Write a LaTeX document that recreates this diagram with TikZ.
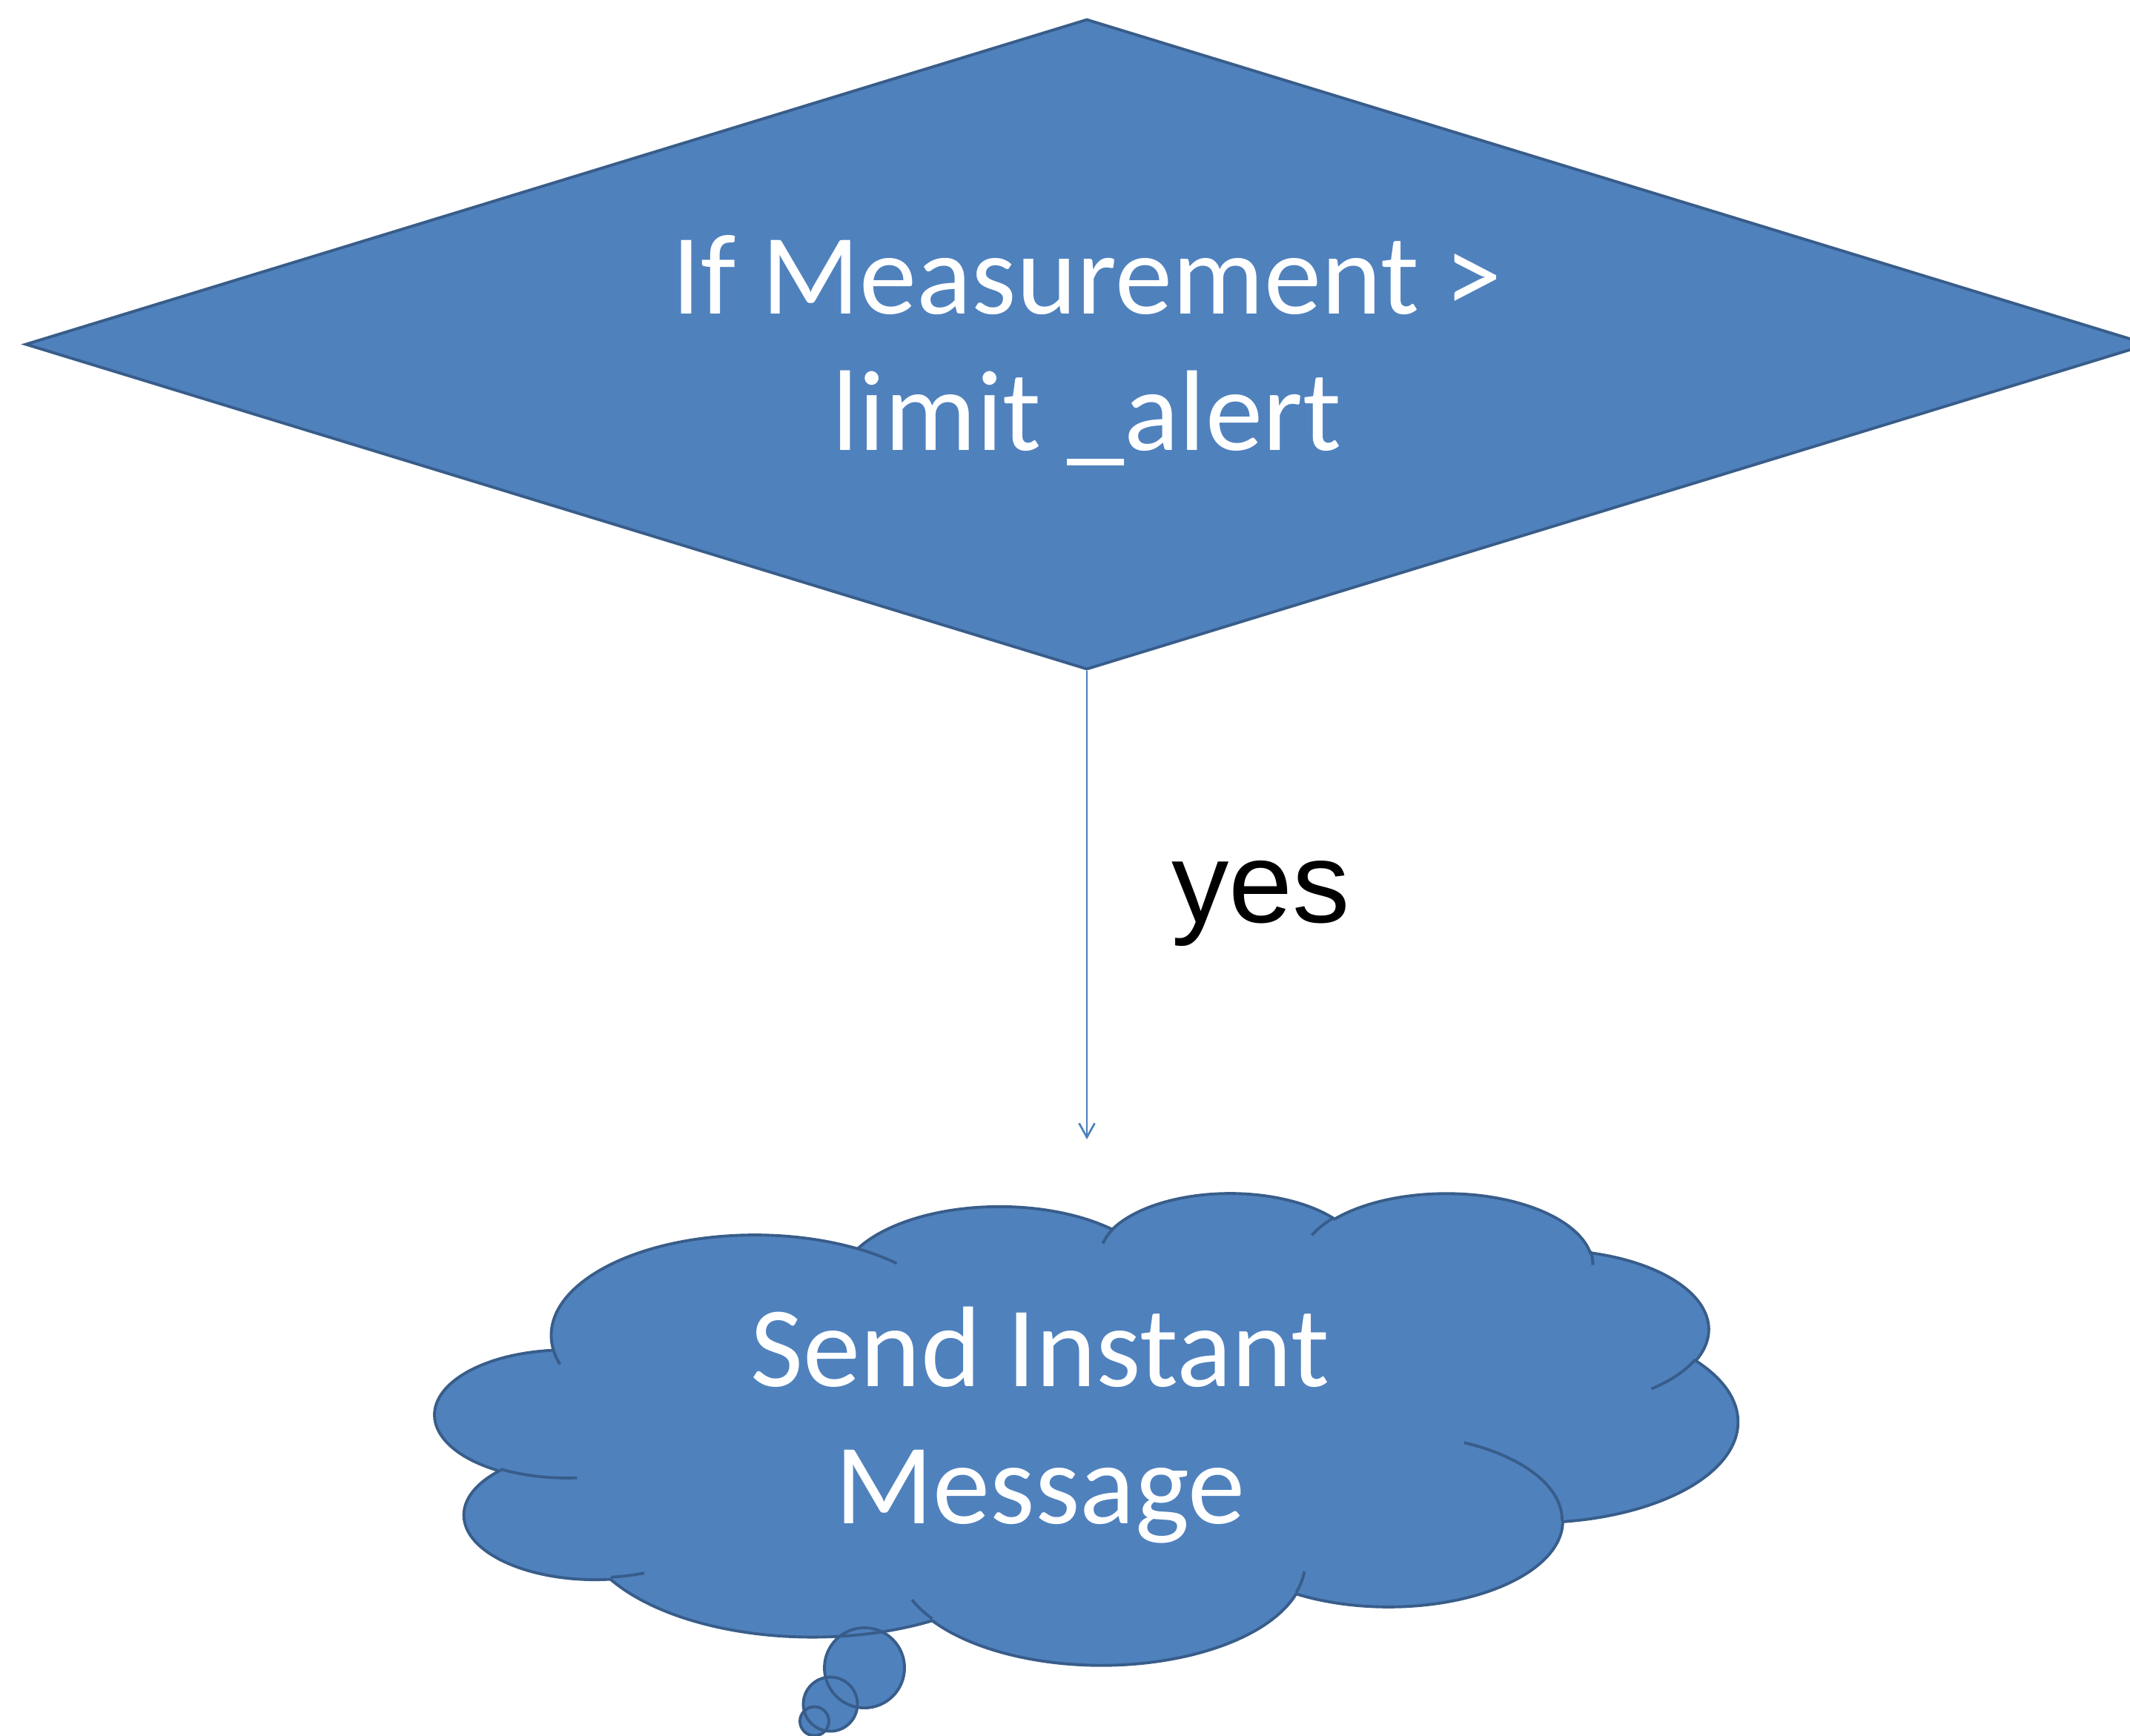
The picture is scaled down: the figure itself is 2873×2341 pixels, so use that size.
\documentclass[tikz,border=0pt]{standalone}
\usepackage{fontspec}
\newfontfamily\calibri{Carlito}
\newfontfamily\arial{Liberation Sans}
\usetikzlibrary{arrows.meta,shapes.geometric}
\definecolor{boxblue}{HTML}{4F81BD}
\definecolor{edgeblue}{HTML}{385D8A}
\definecolor{linkblue}{HTML}{4A7EBB}
\tikzset{%
  >={Straight Barb[width=2.1mm,length=1.9mm]},
  % Specifications for style of nodes:
        base/.style = {draw=edgeblue, fill=boxblue, line width=1.1pt,
                       text=white, align=center,
                       font=\calibri\fontsize{44}{52.5}\selectfont},
    decision/.style = {base, diamond, shape aspect=3.26, inner sep=0pt,
                       minimum width=28.62cm, minimum height=8.77cm},
     msgtext/.style = {inner sep=0pt, text=white, align=center,
                       font=\calibri\fontsize{44}{52.5}\selectfont},
   cloudfill/.style = {fill=boxblue},
   cloudline/.style = {draw=edgeblue, line width=1.1pt},
  % one arc of the cloud outline, angles measured as seen
  declare function={cpa(\a,\w,\h)=atan2(\w*sin(\a),\h*cos(\a));
    cdel(\a,\s,\w,\h)=cpa(\a+\s,\w,\h)-cpa(\a,\w,\h)
      +360*round((\s-cpa(\a+\s,\w,\h)+cpa(\a,\w,\h))/360);}
}
\newcommand\cloudarc[4]{arc[start angle={cpa(#3,#1,#2)},
  delta angle={cdel(#3,#4,#1,#2)}, x radius=#1, y radius=#2]}
% outline of the cloud
\newcommand\cloudoutline{(3.900,14.370)
  \cloudarc{6.753}{9.190}{-190.48748}{123.78053}
  \cloudarc{5.333}{7.267}{-144.10238}{89.94523}
  \cloudarc{4.365}{5.945}{-145.80792}{99.72302}
  \cloudarc{4.857}{6.595}{-130.98607}{117.24173}
  \cloudarc{5.333}{7.273}{-78.70888}{109.02692}
  \cloudarc{6.775}{9.220}{-46.26725}{130.26900}
  \cloudarc{5.785}{7.867}{0.62502}{114.03333}
  \cloudarc{6.752}{9.215}{22.45160}{115.17255}
  \cloudarc{7.720}{10.543}{66.24263}{75.71102}
  \cloudarc{4.360}{5.918}{-274.94208}{146.73557}
  \cloudarc{4.345}{5.945}{-246.82850}{152.51885} -- cycle}
% short strokes inside the cloud
\newcommand\cloudinner{%
  (4.693,26.177) \cloudarc{4.345}{5.945}{86.74200}{26.42950}
  (6.928,34.899) \cloudarc{4.360}{5.918}{73.61047}{11.44747}
  (16.478,39.090) \cloudarc{6.752}{9.215}{137.62415}{14.08110}
  (28.827,34.751) \cloudarc{6.752}{9.215}{6.45327}{15.99835}
  (34.129,22.954) \cloudarc{5.785}{7.867}{-70.29235}{70.91737}
  (41.798,15.354) \cloudarc{5.333}{7.273}{30.31803}{27.75150}
  (38.324,5.426) \cloudarc{4.857}{6.595}{-13.74433}{14.85890}
  (29.078,3.952) \cloudarc{4.857}{6.595}{-149.18145}{18.19537}
  (22.141,4.720) \cloudarc{4.365}{5.945}{-163.49427}{17.68635}
  (14.000,5.192) \cloudarc{6.753}{9.190}{-66.70695}{12.31935}
  (4.127,15.789) \cloudarc{6.753}{9.190}{157.65435}{11.85817}}
\newcommand\bubbles{(1166,2250) circle[radius=0.54cm]
  (1120,2299) circle[radius=0.365cm]
  (1098.5,2322) circle[radius=0.195cm]}

\begin{document}
\begin{tikzpicture}[x=0.01cm, y=-0.01cm]
  \useasboundingbox (0,0) rectangle (2873,2341);
  % Specification of nodes (position, etc.)
  \node (cond) [decision] at (1466,464.5)
    {\rule{0pt}{1.5cm}If Measurement >\\limit \_alert\rule[-0.484cm]{0pt}{0pt}};
  \coordinate (tip) at (1466,1537);
  \node (yes) [anchor=base, font=\arial\fontsize{44}{53}\selectfont]
    at (1700.5,1244) {yes};

  % the cloud and its bubbles
  \begin{scope}[shift={(587.5,1608)}, x=1cm, y=1cm,
      xscale=0.40625, yscale=-0.147222]
    \fill[cloudfill] \cloudoutline;
  \end{scope}
  \fill[cloudfill] \bubbles;
  \begin{scope}[shift={(587.5,1608)}, x=1cm, y=1cm,
      xscale=0.40625, yscale=-0.147222]
    \draw[cloudline] \cloudoutline \cloudinner;
  \end{scope}
  \draw[cloudline] \bubbles;
  \node (msg) [msgtext] at (1403,1922.5) {Send Instant\\Message};

  \draw[->, linkblue, line width=0.75pt] (cond.south) -- (tip);
\end{tikzpicture}
\end{document}
